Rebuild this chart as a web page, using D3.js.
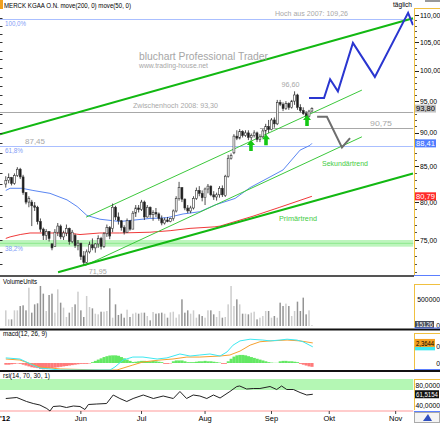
<!DOCTYPE html>
<html>
<head>
<meta charset="utf-8">
<script src="https://cdn.jsdelivr.net/npm/d3@7"></script>
<style>
  body { margin: 0; background: #fff; }
  svg text { font-family: "Liberation Sans", Arial, sans-serif; }
</style>
</head>
<body>
<svg id="chart" width="440" height="423"></svg>
<script>
// ---- data (day index 0 = first candle, late April 2012) ----
// daily candles [open, high, low, close]
var candles = [
  [82.5,83.6,82.0,83.0],[83.0,84.0,82.6,83.4],[83.4,83.5,82.3,82.6],[82.6,84.0,82.4,83.7],[83.7,84.9,83.5,84.6],
  [84.6,84.8,83.2,83.5],[83.5,83.8,81.0,81.3],[81.3,81.3,79.7,80.0],[80.0,80.8,79.3,80.5],[80.0,80.3,76.8,79.5],
  [79.5,80.0,78.8,79.3],[79.3,79.5,77.0,77.4],[77.4,77.8,76.0,76.4],[76.4,76.6,75.0,75.6],[75.6,76.4,75.0,76.1],
  [76.1,76.1,74.8,75.2],[74.5,74.6,73.7,74.0],[74.2,76.4,74.2,76.0],[76.0,77.2,75.5,76.8],[76.8,77.0,75.1,75.4],
  [75.4,76.2,75.0,75.9],[75.9,77.0,75.5,76.5],[76.5,76.6,74.4,74.8],[74.8,76.3,74.6,76.0],[75.6,75.8,74.0,74.3],
  [74.3,75.0,73.7,74.6],[74.6,74.6,72.5,72.9],[73.0,73.6,71.95,72.2],[72.2,73.8,72.1,73.5],[73.5,74.8,73.3,74.4],
  [74.4,75.2,73.7,74.0],[74.0,74.6,73.4,74.5],[74.5,75.6,74.0,75.2],[75.2,75.4,73.8,74.2],[74.2,76.0,74.0,75.8],
  [75.8,77.0,75.4,76.6],[76.6,76.8,75.1,75.5],[76.5,79.8,76.0,79.3],[79.3,79.5,77.6,78.0],[78.0,78.6,77.0,77.5],
  [77.5,77.6,76.2,76.6],[76.6,76.9,75.7,76.0],[76.0,77.8,75.9,77.5],[77.5,77.6,76.2,76.4],[76.4,78.8,76.4,78.5],
  [78.5,79.6,78.0,79.2],[79.2,79.6,78.6,79.0],[79.0,80.3,78.8,80.0],[80.0,80.2,77.6,78.0],[78.0,79.6,77.9,79.3],
  [79.3,79.4,77.9,78.3],[78.3,78.9,77.5,78.6],[78.6,79.2,78.0,78.4],[78.4,78.6,77.5,77.8],[77.8,78.2,76.9,77.2],
  [77.2,77.9,77.0,77.6],[77.6,78.0,77.3,77.4],[77.4,77.9,77.3,77.8],[77.8,79.0,77.5,78.8],[78.8,80.8,78.6,80.5],
  [80.5,82.8,80.2,82.0],[82.0,82.0,80.0,80.4],[80.4,80.5,78.9,79.2],[79.2,79.6,78.5,78.8],[78.8,79.5,78.5,79.2],
  [79.2,80.8,79.0,80.5],[80.5,82.0,80.3,81.6],[81.6,82.2,80.8,81.2],[81.2,81.6,80.1,80.6],[80.6,82.0,79.6,81.8],
  [81.8,82.5,81.2,82.2],[82.2,82.3,80.8,81.0],[81.0,81.5,80.3,80.7],[80.7,81.3,80.2,81.0],[81.0,82.2,80.6,81.9],
  [81.9,82.3,80.7,81.0],[80.9,83.8,80.7,83.6],[83.6,86.7,83.4,86.2],[86.2,86.9,86.0,86.6],[87.0,89.8,86.8,89.5],
  [89.5,90.4,88.9,89.2],[89.2,90.6,89.0,90.2],[90.2,90.4,89.3,89.6],[89.6,90.4,89.4,90.0],[90.0,90.4,88.9,89.3],
  [89.3,89.9,88.9,89.6],[89.6,90.4,89.3,90.0],[90.0,90.2,88.6,89.0],[89.0,89.8,88.6,89.4],[89.4,90.6,89.2,90.3],
  [90.3,91.4,89.7,91.0],[91.0,92.0,90.0,90.5],[90.5,92.3,90.4,92.0],[92.0,92.4,90.8,91.4],[91.4,95.2,91.2,94.8],
  [94.8,95.2,94.2,94.5],[94.5,94.8,93.4,93.8],[93.8,95.0,93.6,94.6],[94.6,94.8,93.6,94.0],[94.0,95.2,93.8,95.0],
  [95.0,96.6,94.4,96.0],[96.0,96.2,93.6,94.0],[94.0,94.5,93.2,93.5],[93.5,94.0,92.8,93.0],[93.0,93.4,92.2,92.6],
  [92.6,93.6,92.4,93.4],[93.4,94.0,93.3,93.8]
];

// volume in thousand units
var volumeK = [
  290,123,123,290,290,370,383,290,710,247, 401,420,741,599,278,574,599,247,679,432,
  340,167,247,352,401,636,290,167,556,352, 327,228,216,265,265,278,698,154,401,204,
  228,154,302,167,228,247,228,247,247,185, 105,259,228,235,247,228,154,253,265,154,
  216,494,247,290,228,290,154,216,185,154, 290,290,216,167,278, 154,167,401,741,370,
  494,401,228,228,216,247,265,123,154,185, 278,278,154,185,154,432,370,414,370,185,
  278,451,278,525,216,290,15.126
];

// moving averages [dayIndex, value]
var ma50 = [[0,81.6],[1.5,81.9],[5.6,81.9],[9.4,81.6],[15.3,81.2],[21.2,80.3],[24.7,79.4],[28.1,78.2],
  [32.6,77.7],[39.5,77.4],[49.9,77.8],[55.8,77.9],[61.4,78.4],[67.2,78.7],[72.4,79.6],[79.4,80.5],
  [84.6,82.0],[91.5,83.5],[96,84.5],[101.9,87.4],[105.3,88.1],[106,88.41]];
var ma200 = [[0,75.2],[1.5,75.4],[5,75.7],[8.4,75.9],[15.3,75.9],[21.2,75.9],[25.7,75.7],[32.6,75.9],
  [39.5,75.9],[49.9,76.0],[56.9,76.2],[63.8,76.5],[72.4,76.7],[74.2,76.8],[85.6,78.1],[94.9,79.3],[106,80.79]];

// trend lines [dayIndex, price]
var primaryUpper = [[-2,89.8],[141,109.4]];
var primaryLower = [[18.1,71.0],[141,84.0]];
var secondaryUpper = [[27.8,77.97],[123.3,96.8]];
var secondaryLower = [[27.4,71.8],[123.3,89.4]];

// forecast paths
var forecastUp = [[105,95.5],[110.2,95.5],[112.3,98.6],[115,96.6],[120.2,104.9],[127.8,99.0],[139.3,110.4],[141,108.1]];
var forecastDown = [[107.8,92.5],[111.2,92.5],[116.4,87.8],[119.2,89.2]];

// buy arrows (tip) [dayIndex, price]
var arrows = [[84.9,88.9],[90.1,89.8],[104.3,92.8]];

// horizontal levels
var levelHigh2007 = 109.26;
var levelZwischenhoch = 93.30;
var level9075 = 90.75;
var level618 = 88.0;
var band382 = [74.15, 75.0];

// MACD [dayIndex, value]
var macdLine = [[0,0.6],[4.9,0.47],[9.4,-0.24],[11.8,-0.6],[18.8,-0.82],[29.2,-0.82],[36.1,-0.82],[37.8,-0.47],
  [40.6,0.35],[44,0.7],[47.5,0.7],[52.4,0.47],[55.8,0.6],[60.3,1.06],[63.8,0.82],[67.2,0.94],[70.7,1.06],
  [74.2,0.82],[76.6,1.3],[78.7,2.1],[81.1,2.6],[84.6,2.8],[89,2.7],[91.5,2.6],[94.9,2.7],[97.4,2.8],
  [100.8,2.7],[102.9,2.5],[106.3,1.9]];
var signalLine = [[0,0.47],[4.9,0.35],[11.8,-0.47],[18.8,-0.7],[32.6,-0.82],[38.5,-0.82],[44,-0.24],
  [47.5,0.12],[53.4,0.35],[57.9,0.47],[62.7,0.7],[67.2,0.7],[74.2,0.82],[77.6,0.94],[81.1,1.4],[84.6,2.1],
  [88,2.5],[91.5,2.6],[97.4,2.7],[101.9,2.6],[106.3,2.36]];
var macdHist = [
  -0.2,-0.2,-0.15,-0.1,-0.05,
  -0.1,-0.2,-0.3,-0.4,-0.5,-0.55,-0.6,-0.7,-0.75,-0.72,-0.65,-0.6,-0.55,-0.5,-0.45,-0.4,-0.35,-0.3,-0.25,-0.2,-0.15,-0.1,
  -0.1,-0.1,-0.05,
  0.1,0.25,0.4,0.55,0.7,0.8,0.88,0.9,0.9,0.85,0.7,0.55,0.4,0.25,0.12,
  0.15,0.2,0.25,0.25,0.2,0.2,0.25,0.2,0.15,0.1,
  -0.1,-0.1,-0.05,
  0.2,0.3,0.3,0.3,0.2,
  0.1,0.1,0.1,0.15,
  0.2,0.2,0.25,0.2,0.2,0.15,0.1,0.05,
  -0.1,-0.1,
  0.2,0.5,0.75,0.9,0.95,0.95,0.9,0.8,0.7,0.6,0.5,0.4,0.3,0.2,
  0.1,0.05,0.02,0.02,
  0.2,0.25,0.25,0.2,0.2,0.15,0.1,
  -0.1,-0.2,-0.3,-0.4,-0.45
];

// RSI [dayIndex, value]
var rsi = [[0,53],[3.8,55],[7.2,47],[9.5,43],[11.8,40],[14.2,33],[15.3,28],[16.4,37],[18.8,38],[21,35],
  [23.4,38],[25.7,37],[27.4,31],[28.6,41],[31.5,42],[34.9,43],[37.2,60],[39.5,53],[41.9,47],[44.1,53],
  [47.6,60],[51.1,53],[54.5,58],[58,53],[60.3,67],[62.6,53],[64.9,60],[67.2,58],[69.6,53],[71.9,60],
  [74.2,54],[77.6,67],[80,77],[81,78],[83.4,72],[85.7,73],[88,73],[91.5,77],[93.8,71],[95.5,78],
  [97.3,71],[99.6,71],[101.9,65],[104.2,60],[106.3,61.5]];
var rsiBands = [[70,92],[22,30]];

var priceTicks = [75,80,85,90,95,100,105,110];
var monthLabels = ["'12","Jun","Jul","Aug","Sep","Okt","Nov"];
var monthIndex = [0,26,47,69,92,112,135];

// ---- scales ----
var svg = d3.select("#chart");
var loc = d3.formatLocale({decimal: ",", thousands: ".", grouping: [3], currency: ["", ""]});
var f2 = loc.format(".2f"), f4 = loc.format(".4f");

var x = d3.scaleLinear().domain([-2, 141]).range([0, 413]);
var y = d3.scaleLog().domain([75, 110]).range([240, 15]);
var yVol = d3.scaleLinear().domain([0, 500000]).range([326, 299]);
var yMacd = d3.scaleLinear().domain([-1, 4]).range([371.5, 329]);
var yRsi = d3.scaleLinear().domain([30, 80]).range([410, 385]);

var defs = svg.append("defs");
function clip(id, y0, y1) {
  defs.append("clipPath").attr("id", id).append("rect")
    .attr("x", 0).attr("y", y0).attr("width", 413.5).attr("height", y1 - y0);
}
clip("cMain", 9, 275);
clip("cVol", 277, 328.5);
clip("cMacd", 330.5, 370);
clip("cRsi", 372, 412);

function label(g, px, py, txt, size, color, len, anchor) {
  var t = g.append("text").attr("x", px).attr("y", py)
    .attr("font-size", size).attr("fill", color).text(txt);
  if (len) t.attr("textLength", len).attr("lengthAdjust", "spacingAndGlyphs");
  if (anchor) t.attr("text-anchor", anchor);
  return t;
}

var pline = d3.line().x(function(d) { return x(d[0]); }).y(function(d) { return y(d[1]); });

// ---- main price panel ----
var main = svg.append("g").attr("clip-path", "url(#cMain)");

main.append("rect").attr("x", 0).attr("width", 413.5)
  .attr("y", y(band382[1])).attr("height", y(band382[0]) - y(band382[1]))
  .attr("fill", "#bdf5bd");
main.append("line").attr("x1", 0).attr("x2", 413.5)
  .attr("y1", y(d3.mean(band382))).attr("y2", y(d3.mean(band382)))
  .attr("stroke", "#8fe88f");

function hline(v, i0, color) {
  main.append("line").attr("x1", x(i0)).attr("x2", 413.5)
    .attr("y1", Math.round(y(v)) + 0.5).attr("y2", Math.round(y(v)) + 0.5)
    .attr("stroke", color).attr("stroke-width", 1);
}
hline(levelHigh2007, -2, "#aabfff");
hline(levelZwischenhoch, -2, "#a8a8a8");
hline(level9075, 88, "#a8a8a8");
hline(level618, -2, "#aabfff");

main.append("path").datum(ma200).attr("d", pline).attr("fill", "none").attr("stroke", "#f03a3a").attr("stroke-width", 1);
main.append("path").datum(ma50).attr("d", pline).attr("fill", "none").attr("stroke", "#5a86f2").attr("stroke-width", 1);

[secondaryUpper, secondaryLower].forEach(function(l) {
  main.append("path").datum(l).attr("d", pline).attr("fill", "none").attr("stroke", "#3cc83c").attr("stroke-width", 1);
});
[primaryUpper, primaryLower].forEach(function(l) {
  main.append("path").datum(l).attr("d", pline).attr("fill", "none").attr("stroke", "#12b812").attr("stroke-width", 2);
});

// candles
var bw = 1.9;
main.selectAll(".wick").data(candles).join("line").attr("class", "wick")
  .attr("x1", function(d, i) { return x(i); }).attr("x2", function(d, i) { return x(i); })
  .attr("y1", function(d) { return y(d[1]); }).attr("y2", function(d) { return y(d[2]); })
  .attr("stroke", "#222").attr("stroke-width", 0.8);
main.selectAll(".body").data(candles).join("rect").attr("class", "body")
  .attr("x", function(d, i) { return x(i) - bw / 2; }).attr("width", bw)
  .attr("y", function(d) { return y(Math.max(d[0], d[3])); })
  .attr("height", function(d) { return Math.max(1, Math.abs(y(d[0]) - y(d[3]))); })
  .attr("fill", function(d) { return d[3] >= d[0] ? "#fff" : "#1a1a1a"; })
  .attr("stroke", "#333").attr("stroke-width", 0.6);

// forecast
main.append("path").datum(forecastUp).attr("d", pline).attr("fill", "none")
  .attr("stroke", "#2a36d0").attr("stroke-width", 2).attr("stroke-linejoin", "miter");
main.append("path").datum(forecastDown).attr("d", pline).attr("fill", "none")
  .attr("stroke", "#6e6e6e").attr("stroke-width", 2);

// arrows
main.selectAll(".arrow").data(arrows).join("path").attr("class", "arrow")
  .attr("transform", function(d) { return "translate(" + x(d[0]) + "," + y(d[1]) + ")"; })
  .attr("d", "M0,0L4,5L1.8,5L1.8,11L-1.8,11L-1.8,5L-4,5Z")
  .attr("fill", "#14c814");

// annotations
var ann = svg.append("g");
label(ann, 139, 60, "bluchart Professional Trader", 10, "#a6a6a6", 129);
label(ann, 139, 68, "www.trading-house.net", 7, "#a6a6a6", 69);
label(ann, 5, y(levelHigh2007) + 7, "100,0%", 7, "#7f9cf5", 21);
label(ann, 275, y(levelHigh2007) - 3, "Hoch aus 2007: 109,26", 7.5, "#a8a8a8", 73);
label(ann, 218, y(levelZwischenhoch) - 3.5, "Zwischenhoch 2008: 93,30", 7.5, "#a8a8a8", 85, "end");
label(ann, x(100) - 13, y(96.6) - 4, "96,60", 7.5, "#a8a8a8", 18);
label(ann, 370, y(level9075) - 2, "90,75", 7.5, "#a8a8a8", 22);
label(ann, 25, y(level618) - 2, "87,45", 7.5, "#a8a8a8", 20);
label(ann, 5, y(level618) + 7, "61,8%", 7, "#7f9cf5", 18);
label(ann, 5, y(d3.mean(band382)) + 8, "38,2%", 7, "#7f9cf5", 18);
label(ann, x(27) + 5, y(71.95) + 10, "71,95", 7.5, "#a8a8a8", 18);
label(ann, 322, 166, "Sekundärtrend", 7.5, "#44cc44", 46);
label(ann, 279, 221, "Primärtrend", 7.5, "#44cc44", 38);

// header
svg.append("rect").attr("x", 0).attr("y", 0).attr("width", 3).attr("height", 9).attr("fill", "#f0a020");
label(svg, 4, 8, "MERCK KGAA O.N. move(200, 0) move(50, 0)", 7.5, "#000", 127);
label(svg, 393, 7, "täglich", 7, "#000", 19);
svg.append("rect").attr("x", 425).attr("y", 0).attr("width", 15).attr("height", 2).attr("fill", "#999");

// left ticks
svg.append("g").selectAll("line").data(d3.range(72, 111, 1.5)).join("line")
  .attr("x1", 0).attr("x2", 2.5).attr("y1", function(d) { return Math.round(y(d)) + 0.5; })
  .attr("y2", function(d) { return Math.round(y(d)) + 0.5; }).attr("stroke", "#333");

// right price axis
var ra = svg.append("g");
ra.append("line").attr("x1", 414.5).attr("x2", 414.5).attr("y1", 8).attr("y2", 275).attr("stroke", "#f0c040");
ra.append("line").attr("x1", 414).attr("x2", 440).attr("y1", 8.5).attr("y2", 8.5).attr("stroke", "#f0c040");
ra.selectAll(".mt").data(d3.range(71, 111)).join("line")
  .attr("x1", 415).attr("x2", 417).attr("y1", function(d) { return Math.round(y(d)) + 0.5; })
  .attr("y2", function(d) { return Math.round(y(d)) + 0.5; }).attr("stroke", "#555");
priceTicks.forEach(function(v) {
  ra.append("line").attr("x1", 415).attr("x2", 419).attr("y1", Math.round(y(v)) + 0.5)
    .attr("y2", Math.round(y(v)) + 0.5).attr("stroke", "#222");
  label(ra, 420, y(v) + 2.5, f2(v), 6.8, "#000");
});
function box(cy, txt, bg, fg, w) {
  ra.append("rect").attr("x", 415).attr("y", cy - 4).attr("width", w).attr("height", 8).attr("fill", bg);
  label(ra, 416, cy + 2.6, txt, 6.8, fg, w - 2);
}
box(y(93.8), f2(93.8), "#c4c4c4", "#000", 21);
box(y(88.41), f2(88.41), "#4f7cff", "#fff", 21);
box(y(80.79), f2(80.79), "#ff2a2a", "#fff", 21);

// panel separators
svg.append("line").attr("x1", 0).attr("x2", 414).attr("y1", 276).attr("y2", 276).attr("stroke", "#555").attr("stroke-width", 2);
svg.append("line").attr("x1", 414).attr("x2", 440).attr("y1", 275.5).attr("y2", 275.5).attr("stroke", "#5b7fff");
svg.append("line").attr("x1", 0).attr("x2", 440).attr("y1", 329.5).attr("y2", 329.5).attr("stroke", "#111").attr("stroke-width", 2);
svg.append("line").attr("x1", 0).attr("x2", 440).attr("y1", 371).attr("y2", 371).attr("stroke", "#111").attr("stroke-width", 2);

// ---- volume ----
var vol = svg.append("g").attr("clip-path", "url(#cVol)");
vol.selectAll("rect").data(volumeK).join("rect")
  .attr("x", function(d, i) { return x(i) - 0.75; }).attr("width", 1.5)
  .attr("y", function(d) { return yVol(d * 1000); })
  .attr("height", function(d) { return yVol(0) - yVol(d * 1000); })
  .attr("fill", function(d, i) { return candles[i][3] >= candles[i][0] ? "#cdcdcd" : "#949494"; });
label(svg, 3, 284, "VolumeUnits", 7, "#000", 34);
var va = svg.append("g");
va.append("line").attr("x1", 414.5).attr("x2", 414.5).attr("y1", 284).attr("y2", 327).attr("stroke", "#f0c040");
va.append("line").attr("x1", 414).attr("x2", 440).attr("y1", 284.5).attr("y2", 284.5).attr("stroke", "#f0c040");
label(va, 440, yVol(500000) + 2.5, "500000", 6.8, "#000", null, "end");
label(va, 440, yVol(0) + 1.5, "0", 6.8, "#000", null, "end");
va.append("rect").attr("x", 415).attr("y", yVol(0) - 5).attr("width", 19).attr("height", 7).attr("fill", "#454a58");
label(va, 416, yVol(0) + 1, "15126", 6.8, "#fff", 17);
va.append("line").attr("x1", 414).attr("x2", 440).attr("y1", 328).attr("y2", 328).attr("stroke", "#5b7fff");

// ---- macd ----
var mg = svg.append("g").attr("clip-path", "url(#cMacd)");
var step = x(1) - x(0);
mg.selectAll("rect").data(macdHist).join("rect")
  .attr("x", function(d, i) { return x(i) - step / 2; }).attr("width", step + 0.2)
  .attr("y", function(d) { return yMacd(Math.max(0, d)); })
  .attr("height", function(d) { return Math.abs(yMacd(d) - yMacd(0)); })
  .attr("fill", function(d) { return d >= 0 ? "#63e863" : "#ff7a7a"; });
var mline = d3.line().x(function(d) { return x(d[0]); }).y(function(d) { return yMacd(d[1]); });
mg.append("path").datum(signalLine).attr("d", mline).attr("fill", "none").attr("stroke", "#f5a030").attr("stroke-width", 1);
mg.append("path").datum(macdLine).attr("d", mline).attr("fill", "none").attr("stroke", "#3ee8f0").attr("stroke-width", 1);
label(svg, 3, 336, "macd(12, 26, 9)", 7, "#000", 44);
var ma = svg.append("g");
ma.append("line").attr("x1", 414.5).attr("x2", 414.5).attr("y1", 333).attr("y2", 369).attr("stroke", "#f0c040");
ma.append("line").attr("x1", 414).attr("x2", 440).attr("y1", 333.5).attr("y2", 333.5).attr("stroke", "#f0c040");
ma.append("rect").attr("x", 415).attr("y", yMacd(1.9) - 3.5).attr("width", 20).attr("height", 7).attr("fill", "#3ee8f0");
ma.append("rect").attr("x", 415).attr("y", yMacd(2.36) - 4).attr("width", 20).attr("height", 8).attr("fill", "#f5a020");
label(ma, 416, yMacd(2.36) + 2.6, f4(2.3644), 6.8, "#000", 18);
label(ma, 440, yMacd(2) + 2.5, "0", 6.8, "#000", null, "end");
label(ma, 440, yMacd(0) + 2.5, "0", 6.8, "#000", null, "end");
ma.append("line").attr("x1", 414).attr("x2", 440).attr("y1", 369.5).attr("y2", 369.5).attr("stroke", "#5b7fff");

// ---- rsi ----
var rg = svg.append("g").attr("clip-path", "url(#cRsi)");
rg.append("rect").attr("x", 0).attr("width", 413.5).attr("y", yRsi(rsiBands[0][1]))
  .attr("height", yRsi(rsiBands[0][0]) - yRsi(rsiBands[0][1])).attr("fill", "#b4f7b4");
rg.append("rect").attr("x", 0).attr("width", 413.5).attr("y", yRsi(rsiBands[1][1]))
  .attr("height", yRsi(rsiBands[1][0]) - yRsi(rsiBands[1][1])).attr("fill", "#ffcccc");
rg.append("path").datum(rsi)
  .attr("d", d3.line().x(function(d) { return x(d[0]); }).y(function(d) { return yRsi(d[1]); }))
  .attr("fill", "none").attr("stroke", "#222").attr("stroke-width", 1);
label(svg, 3, 378, "rsi(14, 70, 30, 1)", 7, "#000", 47);
var rr = svg.append("g");
rr.append("line").attr("x1", 414.5).attr("x2", 414.5).attr("y1", 379).attr("y2", 410).attr("stroke", "#f0c040");
rr.append("line").attr("x1", 414).attr("x2", 440).attr("y1", 379.5).attr("y2", 379.5).attr("stroke", "#f0c040");
label(rr, 440, yRsi(80) + 2.5, f4(80), 6.8, "#000", null, "end");
label(rr, 440, yRsi(40) + 2.5, f4(40), 6.8, "#000", null, "end");
rr.append("rect").attr("x", 415).attr("y", yRsi(61.5154) - 4).attr("width", 24).attr("height", 8).attr("fill", "#111");
label(rr, 416, yRsi(61.5154) + 2.6, f4(61.5154), 6.8, "#fff", 22);
rr.append("line").attr("x1", 414).attr("x2", 440).attr("y1", 411.5).attr("y2", 411.5).attr("stroke", "#5b7fff");

// ---- time axis ----
var ta = svg.append("g");
monthLabels.forEach(function(m, k) {
  var px = x(monthIndex[k]);
  if (k > 0) ta.append("line").attr("x1", px).attr("x2", px).attr("y1", 411).attr("y2", 414).attr("stroke", "#444");
  var t = label(ta, k === 0 ? 0 : px, 421, m, 7.5, "#000", null, k === 0 ? "start" : "middle");
  if (k === 0) t.attr("font-weight", "bold");
});
ta.append("rect").attr("x", 414.5).attr("y", 412.5).attr("width", 25).attr("height", 10).attr("fill", "#f4f4f4").attr("stroke", "#aaa");
ta.append("path").attr("d", "M423,421L428,414L432,421Z").attr("fill", "#3050c0");
</script>
</body>
</html>
